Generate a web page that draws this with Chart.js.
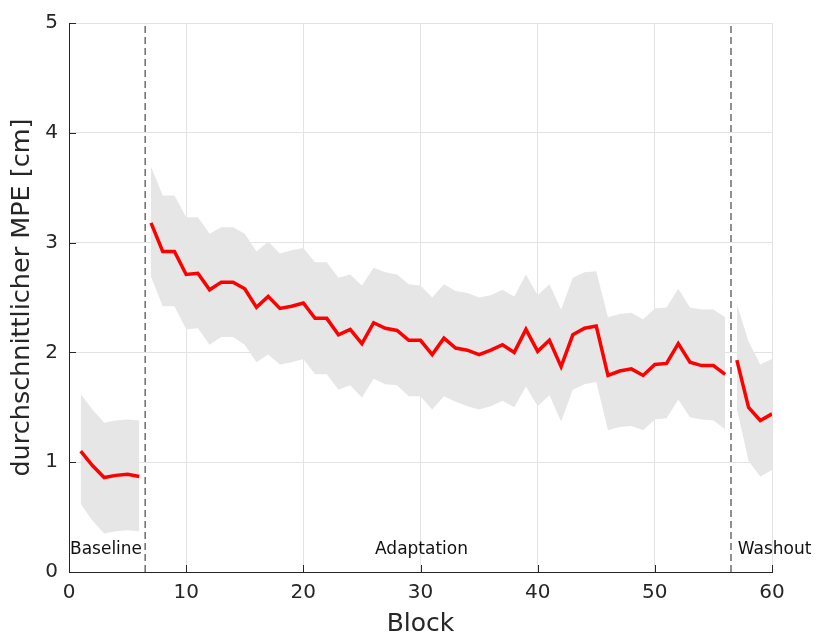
<!DOCTYPE html>
<html>
<head>
<meta charset="utf-8">
<script src="https://cdn.jsdelivr.net/npm/chart.js@4"></script>
<style>
  html, body { margin: 0; padding: 0; background: #fff; }
</style>
</head>
<body>
<canvas id="mpeChart" width="817" height="641"></canvas>
<script>
// mean MPE per block (blocks 1..60)
const meanMPE = [
  1.10, 0.97, 0.86, 0.88, 0.89, 0.87,
  3.18, 2.92, 2.92, 2.71, 2.72, 2.57, 2.64, 2.64, 2.58, 2.41,
  2.51, 2.40, 2.42, 2.45, 2.31, 2.31, 2.16, 2.21, 2.08, 2.27,
  2.22, 2.20, 2.11, 2.11, 1.98, 2.13, 2.04, 2.02, 1.98, 2.02,
  2.07, 2.00, 2.21, 2.01, 2.11, 1.87, 2.16, 2.22, 2.24, 1.79,
  1.83, 1.85, 1.79, 1.89, 1.90, 2.08, 1.91, 1.88, 1.88, 1.80,
  1.93, 1.50, 1.38, 1.44
];
// upper / lower edge of the shaded band
const upperMPE = [
  1.62, 1.48, 1.36, 1.38, 1.39, 1.38,
  3.69, 3.43, 3.43, 3.23, 3.23, 3.08, 3.14, 3.14, 3.08, 2.92,
  3.01, 2.90, 2.93, 2.95, 2.82, 2.82, 2.68, 2.71, 2.61, 2.77,
  2.73, 2.71, 2.62, 2.61, 2.50, 2.62, 2.56, 2.54, 2.50, 2.52,
  2.57, 2.51, 2.71, 2.52, 2.62, 2.39, 2.68, 2.73, 2.74, 2.32,
  2.35, 2.36, 2.30, 2.40, 2.41, 2.58, 2.41, 2.39, 2.39, 2.32,
  2.44, 2.10, 1.89, 1.94
];
const lowerMPE = [
  0.62, 0.47, 0.35, 0.37, 0.38, 0.37,
  2.69, 2.42, 2.42, 2.21, 2.22, 2.07, 2.14, 2.14, 2.07, 1.91,
  1.98, 1.89, 1.91, 1.94, 1.80, 1.80, 1.66, 1.70, 1.59, 1.76,
  1.71, 1.70, 1.60, 1.60, 1.48, 1.60, 1.55, 1.51, 1.48, 1.51,
  1.56, 1.50, 1.69, 1.51, 1.61, 1.37, 1.66, 1.71, 1.73, 1.29,
  1.32, 1.33, 1.29, 1.39, 1.40, 1.57, 1.41, 1.39, 1.38, 1.30,
  1.49, 1.01, 0.87, 0.93
];

// phases: name, first block, last block, label x, label align
const phaseNames = ['Baseline', 'Adaptation', 'Washout'];
const phaseFirst = [1, 7, 57];
const phaseLast = [6, 56, 60];
const phaseLabelX = [0, 30, 57];
const phaseLabelAlign = ['left', 'center', 'left'];
const phaseBreaks = [6.5, 56.5];

const xTicks = [0, 10, 20, 30, 40, 50, 60];
const yTicks = [0, 1, 2, 3, 4, 5];

const FONT = 'DejaVu Sans';

function slice(arr, p) {
  const pts = [];
  for (let b = phaseFirst[p]; b <= phaseLast[p]; b++) {
    pts.push({ x: b, y: arr[b - 1] });
  }
  return pts;
}

const datasets = [];
phaseNames.forEach((name, p) => {
  datasets.push({
    label: name + ' mean',
    data: slice(meanMPE, p),
    borderColor: '#ff0000',
    borderWidth: 3.5,
    pointRadius: 0,
    fill: false,
    order: 0
  });
});
phaseBreaks.forEach(bx => {
  datasets.push({
    label: 'break',
    data: [{ x: bx, y: 0 }, { x: bx, y: 5 }],
    borderColor: '#555555',
    borderWidth: 1.3,
    borderDash: [7, 4],
    pointRadius: 0,
    fill: false,
    order: 1
  });
});
phaseNames.forEach((name, p) => {
  const upIdx = datasets.length;
  datasets.push({
    label: name + ' upper',
    data: slice(upperMPE, p),
    borderWidth: 0,
    borderColor: 'rgba(0,0,0,0)',
    backgroundColor: '#e6e6e6',
    pointRadius: 0,
    fill: upIdx + 1,
    order: 2
  });
  datasets.push({
    label: name + ' lower',
    data: slice(lowerMPE, p),
    borderWidth: 0,
    borderColor: 'rgba(0,0,0,0)',
    pointRadius: 0,
    fill: false,
    order: 2
  });
});

// MATLAB-style inward ticks and phase names
const extras = {
  id: 'extras',
  afterDatasetsDraw(chart) {
    const { ctx, scales: { x, y } } = chart;
    const area = chart.chartArea;
    ctx.save();
    ctx.strokeStyle = '#262626';
    ctx.lineWidth = 1;
    xTicks.forEach(t => {
      const px = Math.round(x.getPixelForValue(t)) + 0.5;
      ctx.beginPath();
      ctx.moveTo(px, area.bottom);
      ctx.lineTo(px, area.bottom - 7);
      ctx.stroke();
    });
    yTicks.forEach(t => {
      const py = Math.round(y.getPixelForValue(t)) + 0.5;
      ctx.beginPath();
      ctx.moveTo(area.left, py);
      ctx.lineTo(area.left + 7, py);
      ctx.stroke();
    });
    ctx.fillStyle = '#111111';
    ctx.font = '17px "' + FONT + '"';
    ctx.textBaseline = 'middle';
    phaseNames.forEach((name, p) => {
      ctx.textAlign = phaseLabelAlign[p];
      ctx.fillText(name, x.getPixelForValue(phaseLabelX[p]) + 1, 550);
    });
    ctx.restore();
  }
};

new Chart(document.getElementById('mpeChart'), {
  type: 'line',
  data: { datasets },
  plugins: [extras],
  options: {
    responsive: false,
    animation: false,
    layout: { padding: { top: 16, right: 45, left: 0, bottom: 0 } },
    plugins: {
      legend: { display: false },
      tooltip: { enabled: false }
    },
    scales: {
      x: {
        type: 'linear',
        min: 0,
        max: 60,
        afterFit: s => { s.height = 69; },
        afterBuildTicks: s => { s.ticks = xTicks.map(v => ({ value: v })); },
        grid: { color: '#e3e3e3', drawTicks: false },
        border: { color: '#262626', width: 1 },
        ticks: {
          padding: 9,
          color: '#262626',
          font: { family: FONT, size: 20 }
        },
        title: {
          display: true,
          text: 'Block',
          color: '#262626',
          font: { family: FONT, size: 25 },
          padding: { top: 0, bottom: 2 }
        }
      },
      y: {
        min: 0,
        max: 5,
        afterFit: s => { s.width = 69; },
        afterBuildTicks: s => { s.ticks = yTicks.map(v => ({ value: v })); },
        grid: { color: '#e3e3e3', drawTicks: false },
        border: { color: '#262626', width: 1 },
        ticks: {
          padding: 11,
          color: '#262626',
          font: { family: FONT, size: 20 }
        },
        title: {
          display: true,
          text: 'durchschnittlicher MPE [cm]',
          color: '#262626',
          font: { family: FONT, size: 25.5 },
          padding: { top: 7, bottom: 0 }
        }
      }
    }
  }
});
</script>
</body>
</html>
